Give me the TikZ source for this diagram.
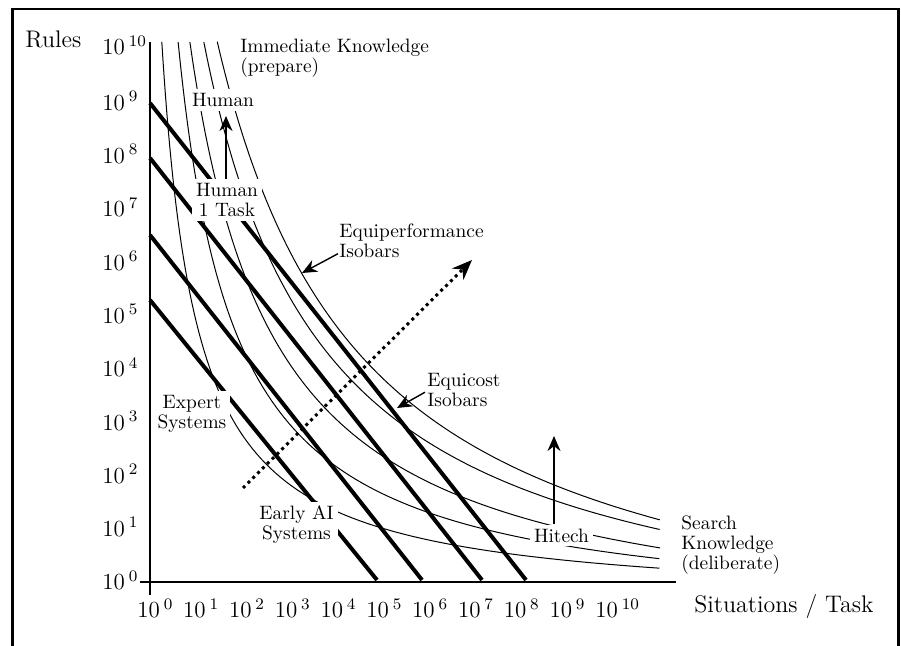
\documentclass[tikz,border=0pt]{standalone}
\usepackage{fontspec}
\usepackage{tikz}
\usetikzlibrary{arrows.meta}

\newcommand{\tenpow}[1]{10\,\textsuperscript{#1}}

\begin{document}
\begin{tikzpicture}[
    x=0.5pt, y=-0.5pt,
    isobar/.style={line width=0.5pt},
    costline/.style={line width=2pt},
    axisline/.style={line width=0.9pt},
    frameline/.style={line width=1.3pt},
    tick/.style={anchor=base west, inner sep=0pt, font=\fontsize{11.5}{13}\selectfont},
    axistitle/.style={anchor=base west, inner sep=0pt, font=\fontsize{12}{14}\selectfont},
    note/.style={anchor=north west, inner sep=0pt, align=left, font=\fontsize{9.7}{10}\selectfont},
    mask/.style={fill=white, inner sep=2pt, align=center, font=\fontsize{9.7}{10}\selectfont},
    ptr/.style={-{Stealth[length=7.5pt, width=6.5pt]}, line width=0.7pt},
    trend/.style={-{Stealth[length=10pt, width=8pt]}, line width=1.5pt, dash pattern=on 1.5pt off 1.9pt},
]

\useasboundingbox (0,0) rectangle (901,646);

% === FRAME (open at the bottom) ===
\draw[frameline] (12.5,646) -- (12.5,9) -- (898.5,9) -- (898.5,646);

% === AXES: one decade = 45.8 units across, 53.3 units up ===
\coordinate (ytop) at (150,42);
\coordinate (ybot) at (150,595);
\coordinate (xleft) at (140,582);
\coordinate (xright) at (676,582);
\draw[axisline] (ytop) -- (ybot);
\draw[axisline] (xleft) -- (xright);

\node[axistitle] (rules) at (25,48) {Rules};
\node[axistitle] (situ) at (694,613) {Situations / Task};

% rules (y) ticks
\node[tick] (y0)  at (102,590)   {\tenpow{0}};
\node[tick] (y1)  at (102,536.7) {\tenpow{1}};
\node[tick] (y2)  at (102,483.4) {\tenpow{2}};
\node[tick] (y3)  at (102,430.1) {\tenpow{3}};
\node[tick] (y4)  at (102,376.8) {\tenpow{4}};
\node[tick] (y5)  at (102,323.5) {\tenpow{5}};
\node[tick] (y6)  at (102,270.2) {\tenpow{6}};
\node[tick] (y7)  at (102,216.9) {\tenpow{7}};
\node[tick] (y8)  at (102,163.6) {\tenpow{8}};
\node[tick] (y9)  at (102,110.3) {\tenpow{9}};
\node[tick] (y10) at (102,55)    {\tenpow{10}};

% situations (x) ticks
\node[tick] (x0)  at (137,618)   {\tenpow{0}};
\node[tick] (x1)  at (182.8,618) {\tenpow{1}};
\node[tick] (x2)  at (228.6,618) {\tenpow{2}};
\node[tick] (x3)  at (274.4,618) {\tenpow{3}};
\node[tick] (x4)  at (320.2,618) {\tenpow{4}};
\node[tick] (x5)  at (366,618)   {\tenpow{5}};
\node[tick] (x6)  at (411.8,618) {\tenpow{6}};
\node[tick] (x7)  at (457.6,618) {\tenpow{7}};
\node[tick] (x8)  at (503.4,618) {\tenpow{8}};
\node[tick] (x9)  at (549.2,618) {\tenpow{9}};
\node[tick] (x10) at (595,618)   {\tenpow{10}};

% =======================================================================
% EQUIPERFORMANCE ISOBARS - thin hyperbolas (X-Xa)(Ya-Y)=c^2
% =======================================================================
\draw[isobar] plot[domain=-1.392:1.337, samples=80, variable=\t] ({127+140*exp(\t)}, {605-140*exp(-\t)});
\draw[isobar] plot[domain=-1.157:1.087, samples=80, variable=\t] ({121+181.7*exp(\t)}, {620-181.7*exp(-\t)});
\draw[isobar] plot[domain=-0.972:0.899, samples=80, variable=\t] ({104.3+226.2*exp(\t)}, {640-226.2*exp(-\t)});
\draw[isobar] plot[domain=-0.811:0.745, samples=80, variable=\t] ({81.8+274.6*exp(\t)}, {660-274.6*exp(-\t)});
\draw[isobar] plot[domain=-0.730:0.653, samples=80, variable=\t] ({69+307.6*exp(\t)}, {680-307.6*exp(-\t)});

% =======================================================================
% EQUICOST ISOBARS - thick straight lines
% =======================================================================
\coordinate (A0) at (150,103); \coordinate (A1) at (526,580);
\coordinate (B0) at (150,158); \coordinate (B1) at (482,580);
\coordinate (C0) at (150,235); \coordinate (C1) at (422,580);
\coordinate (D0) at (150,300); \coordinate (D1) at (377,580);
\draw[costline] (A0) -- (A1);
\draw[costline] (B0) -- (B1);
\draw[costline] (C0) -- (C1);
\draw[costline] (D0) -- (D1);

% --- progress direction (dotted) ---
\coordinate (trendfrom) at (243,488);
\coordinate (trendto) at (472,260);
\draw[trend] (trendfrom) -- (trendto);

% =======================================================================
% LABELS (white boxes cut the lines behind them)
% =======================================================================
\node[note] (immed) at (240,39) {Immediate Knowledge\\(prepare)};
\node[mask] (human) at (223,100) {Human};
\node[mask] (humanone) at (227,200) {Human\\1 Task};
\node[note] (eqperf) at (339,223) {Equiperformance\\Isobars};
\node[note] (eqcost) at (427,373) {Equicost\\Isobars};
\node[mask] (expert) at (192,414) {Expert\\Systems};
\node[mask] (earlyai) at (296.5,524.5) {Early AI\\Systems};
\node[mask] (hitech) at (561.5,535.5) {Hitech};
\node[note] (search) at (681,515) {Search\\Knowledge\\(deliberate)};

% --- pointers ---
\coordinate (humantip) at (226,116);
\coordinate (hitechtip) at (554,436);
\coordinate (perftip) at (302,273);
\coordinate (costtip) at (397,408);
\draw[ptr] (humanone.north -| humantip) -- (humantip);
\draw[ptr] (hitech.north -| hitechtip) -- (hitechtip);
\draw[ptr] ([shift={(-1,-4)}]eqperf.south west) -- (perftip);
\draw[ptr] ([shift={(-2,-15)}]eqcost.south west) -- (costtip);

\end{tikzpicture}
\end{document}
